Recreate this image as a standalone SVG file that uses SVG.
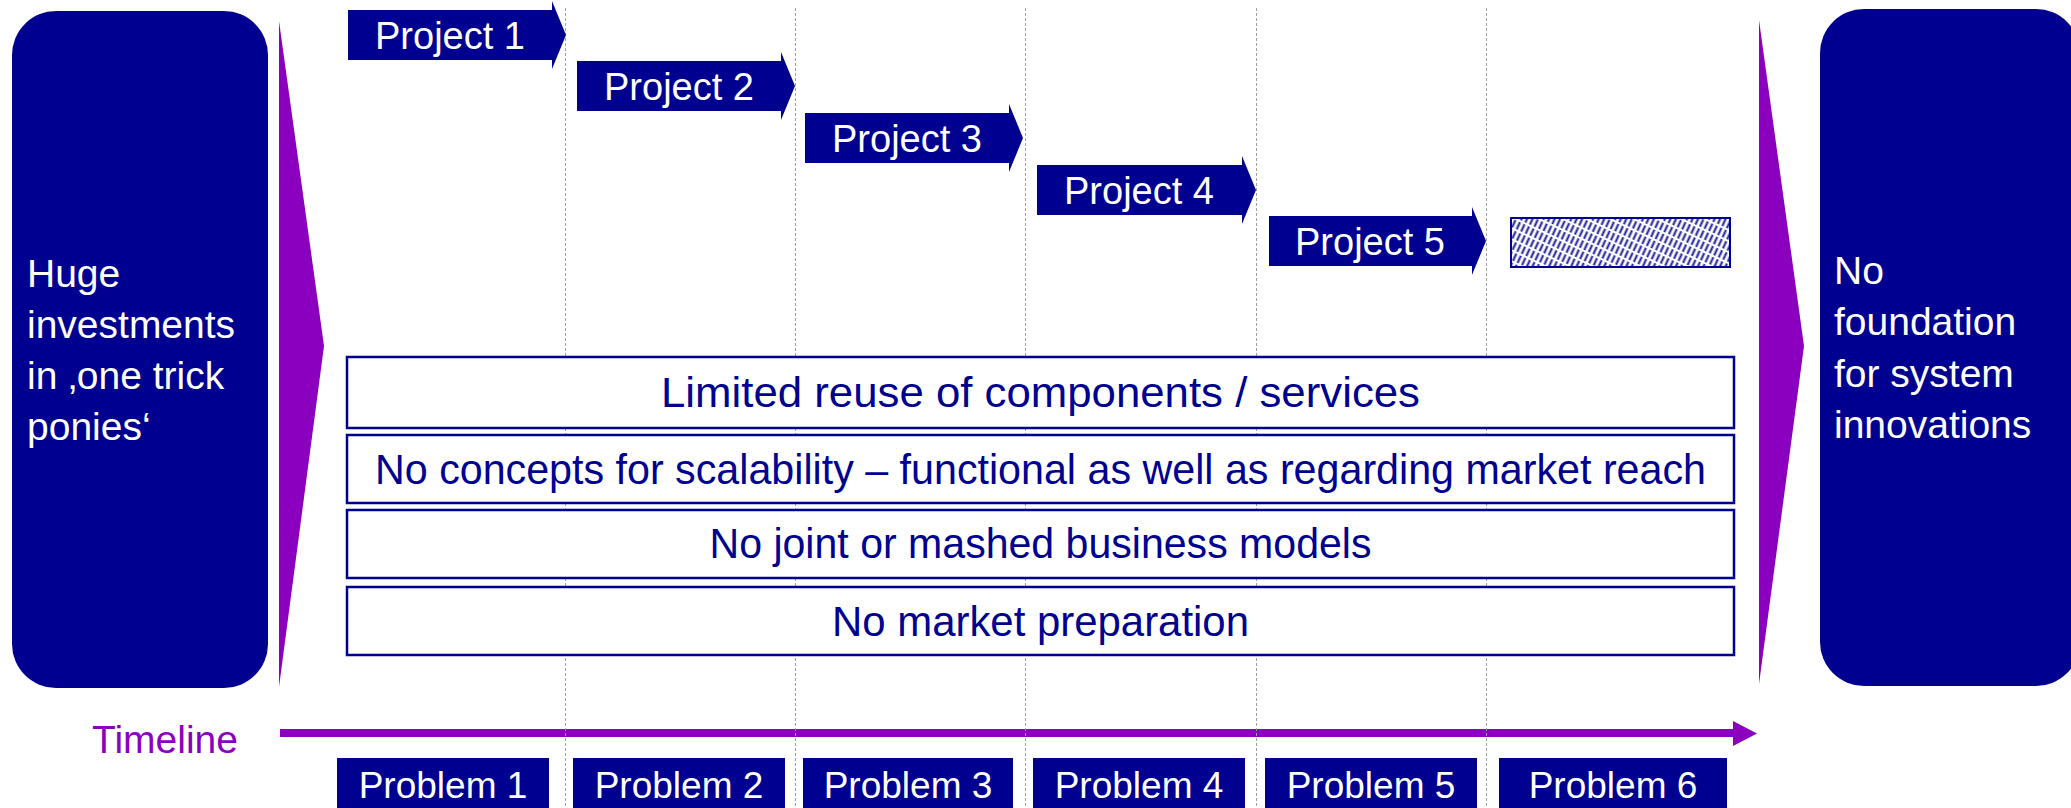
<svg xmlns="http://www.w3.org/2000/svg" width="2071" height="808" viewBox="0 0 2071 808">
<defs>
<pattern id="hatch" width="5" height="10" patternUnits="userSpaceOnUse" patternTransform="rotate(25)">
<rect width="5" height="10" fill="#ffffff"/>
<line x1="1.5" y1="0" x2="1.5" y2="10" stroke="#1a1a9a" stroke-width="2" stroke-dasharray="7 2"/>
</pattern>
<style>
.navy{fill:#000090}
.purple{fill:#8a00be}
.wt{font-family:"Liberation Sans",Arial,sans-serif;fill:#ffffff}
.bt{font-family:"Liberation Sans",Arial,sans-serif;fill:#000090;font-size:42px;text-anchor:middle}
.proj{font-size:38px;text-anchor:middle}
.prob{font-size:37px;text-anchor:middle}
.side{font-size:39px}
.box{fill:#ffffff;stroke:#000090;stroke-width:2.5}
.grid{stroke:#a0a0a0;stroke-width:1;stroke-dasharray:3 2;fill:none}
</style>
</defs>
<rect width="2071" height="808" fill="#ffffff"/>

<g id="left-box">
<rect x="12" y="11" width="256" height="677" rx="44" ry="44" class="navy"/>
<text class="wt side" x="27" y="287">Huge</text>
<text class="wt side" x="27" y="338">investments</text>
<text class="wt side" x="27" y="389">in ‚one trick</text>
<text class="wt side" x="27" y="440">ponies‘</text>
</g>
<g id="left-wedge">
<polygon points="279,21 324,346 279,687" class="purple"/>
</g>

<g id="right-wedge">
<polygon points="1759,20 1804,346 1759,684" class="purple"/>
</g>
<g id="right-box">
<rect x="1820" y="9" width="260" height="677" rx="44" ry="44" class="navy"/>
<text class="wt side" x="1834" y="284">No</text>
<text class="wt side" x="1834" y="335">foundation</text>
<text class="wt side" x="1834" y="387">for system</text>
<text class="wt side" x="1834" y="438">innovations</text>
</g>

<g id="connectors">
<path id="timeline-arrow" d="M280,729 H1733 V721 L1757,733.5 L1733,746 V737 H280 Z" class="purple"/>
<line class="grid" x1="565.5" y1="8" x2="565.5" y2="808"/>
<line class="grid" x1="795.5" y1="8" x2="795.5" y2="808"/>
<line class="grid" x1="1025.5" y1="8" x2="1025.5" y2="808"/>
<line class="grid" x1="1256.5" y1="8" x2="1256.5" y2="808"/>
<line class="grid" x1="1486.5" y1="8" x2="1486.5" y2="808"/>
</g>

<g id="timeline-label">
<text x="238" y="753" font-family="Liberation Sans, Arial, sans-serif" font-size="39" fill="#8a00be" text-anchor="end">Timeline</text>
</g>

<g id="project-1">
<path d="M348,10 H552 V1 L566,35 L552,69 V60 H348 Z" class="navy"/>
<text class="wt proj" x="450" y="49">Project 1</text>
</g>
<g id="project-2">
<path d="M577,61 H781 V52 L795,86 L781,120 V111 H577 Z" class="navy"/>
<text class="wt proj" x="679" y="100">Project 2</text>
</g>
<g id="project-3">
<path d="M805,113 H1009 V104 L1023,138 L1009,172 V163 H805 Z" class="navy"/>
<text class="wt proj" x="907" y="152">Project 3</text>
</g>
<g id="project-4">
<path d="M1037,165 H1242 V156 L1256,190 L1242,224 V215 H1037 Z" class="navy"/>
<text class="wt proj" x="1139" y="204">Project 4</text>
</g>
<g id="project-5">
<path d="M1269,216 H1472 V207 L1486,241 L1472,275 V266 H1269 Z" class="navy"/>
<text class="wt proj" x="1370" y="255">Project 5</text>
</g>
<g id="project-6-placeholder">
<rect x="1511" y="218" width="219" height="49" fill="url(#hatch)" stroke="#000090" stroke-width="2"/>
</g>

<g id="issue-1">
<rect x="347" y="357" width="1387" height="71" class="box"/>
<text class="bt" x="1040.5" y="407" textLength="759" lengthAdjust="spacingAndGlyphs">Limited reuse of components / services</text>
</g>
<g id="issue-2">
<rect x="347" y="435" width="1387" height="68" class="box"/>
<text class="bt" x="1040.5" y="484" textLength="1331" lengthAdjust="spacingAndGlyphs">No concepts for scalability – functional as well as regarding market reach</text>
</g>
<g id="issue-3">
<rect x="347" y="510" width="1387" height="68" class="box"/>
<text class="bt" x="1040.5" y="558" textLength="662" lengthAdjust="spacingAndGlyphs">No joint or mashed business models</text>
</g>
<g id="issue-4">
<rect x="347" y="587" width="1387" height="68" class="box"/>
<text class="bt" x="1040.5" y="636" textLength="417" lengthAdjust="spacingAndGlyphs">No market preparation</text>
</g>

<g id="problem-1">
<rect x="337" y="758" width="212" height="60" class="navy"/>
<text class="wt prob" x="443" y="798">Problem 1</text>
</g>
<g id="problem-2">
<rect x="573" y="758" width="212" height="60" class="navy"/>
<text class="wt prob" x="679" y="798">Problem 2</text>
</g>
<g id="problem-3">
<rect x="803" y="758" width="210" height="60" class="navy"/>
<text class="wt prob" x="908" y="798">Problem 3</text>
</g>
<g id="problem-4">
<rect x="1033" y="758" width="212" height="60" class="navy"/>
<text class="wt prob" x="1139" y="798">Problem 4</text>
</g>
<g id="problem-5">
<rect x="1265" y="758" width="212" height="60" class="navy"/>
<text class="wt prob" x="1371" y="798">Problem 5</text>
</g>
<g id="problem-6">
<rect x="1499" y="758" width="228" height="60" class="navy"/>
<text class="wt prob" x="1613" y="798">Problem 6</text>
</g>
</svg>
